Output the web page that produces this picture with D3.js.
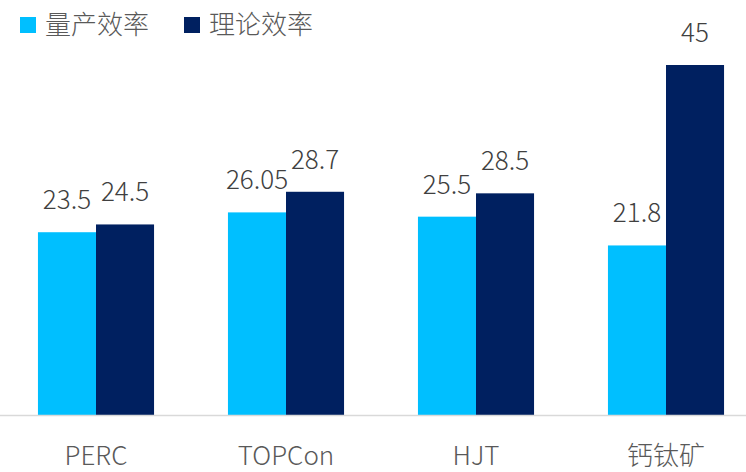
<!DOCTYPE html>
<html>
<head>
<meta charset="utf-8">
<script src="https://cdn.jsdelivr.net/npm/d3@7"></script>
<style>
  body { margin: 0; background: #fff; }
  text { font-family: "Noto Sans CJK SC", "Noto Sans", sans-serif; font-weight: 300; }
</style>
</head>
<body>
<svg id="chart"></svg>
<script>
const categories = ['PERC', 'TOPCon', 'HJT', '钙钛矿'];
const seriesNames = ['量产效率', '理论效率'];
const massEff = [23.5, 26.05, 25.5, 21.8];
const theoryEff = [24.5, 28.7, 28.5, 45];
const colors = ['#00BFFF', '#002060'];

const width = 746, height = 472;
const baseY = 415;

const svg = d3.select('#chart').attr('width', width).attr('height', height);

const data = categories.map((c, i) => ({ cat: c, values: [massEff[i], theoryEff[i]] }));

const x = d3.scaleBand()
    .domain(categories)
    .range([1, 761])
    .paddingInner(0.389)
    .paddingOuter(0.1945);

const x1 = d3.scaleBand()
    .domain([0, 1])
    .range([0, x.bandwidth()]);

const y = d3.scaleLinear()
    .domain([0, 45])
    .range([baseY, 65]);

// bars
const groups = svg.append('g')
  .selectAll('g')
  .data(data)
  .enter().append('g')
    .attr('transform', d => 'translate(' + x(d.cat) + ',0)');

groups.selectAll('rect')
  .data(d => d.values)
  .enter().append('rect')
    .attr('x', (d, i) => x1(i))
    .attr('y', d => y(d))
    .attr('width', x1.bandwidth())
    .attr('height', d => baseY - y(d))
    .attr('fill', (d, i) => colors[i]);

// value labels
groups.selectAll('text.val')
  .data(d => d.values)
  .enter().append('text')
    .attr('class', 'val')
    .attr('x', (d, i) => x1(i) + x1.bandwidth() / 2)
    .attr('y', d => y(d) - 23)
    .attr('text-anchor', 'middle')
    .attr('font-size', '26px')
    .attr('fill', '#404040')
    .text(d => d);

// x axis
svg.append('line')
    .attr('x1', 0).attr('x2', width)
    .attr('y1', baseY + 0.5).attr('y2', baseY + 0.5)
    .attr('stroke', '#d9d9d9')
    .attr('stroke-width', 1.5);

svg.append('g')
  .selectAll('text')
  .data(categories)
  .enter().append('text')
    .attr('x', d => x(d) + x.bandwidth() / 2)
    .attr('y', 465)
    .attr('text-anchor', 'middle')
    .attr('font-size', '26px')
    .attr('fill', '#595959')
    .text(d => d);

// legend
const legend = svg.append('g')
  .selectAll('g')
  .data(seriesNames)
  .enter().append('g')
    .attr('transform', (d, i) => 'translate(' + (20 + i * 164) + ',17)');

legend.append('rect')
    .attr('width', 16)
    .attr('height', 16)
    .attr('fill', (d, i) => colors[i]);

legend.append('text')
    .attr('x', 25)
    .attr('y', 8)
    .attr('dy', '0.35em')
    .attr('font-size', '26px')
    .attr('fill', '#595959')
    .text(d => d);
</script>
</body>
</html>
